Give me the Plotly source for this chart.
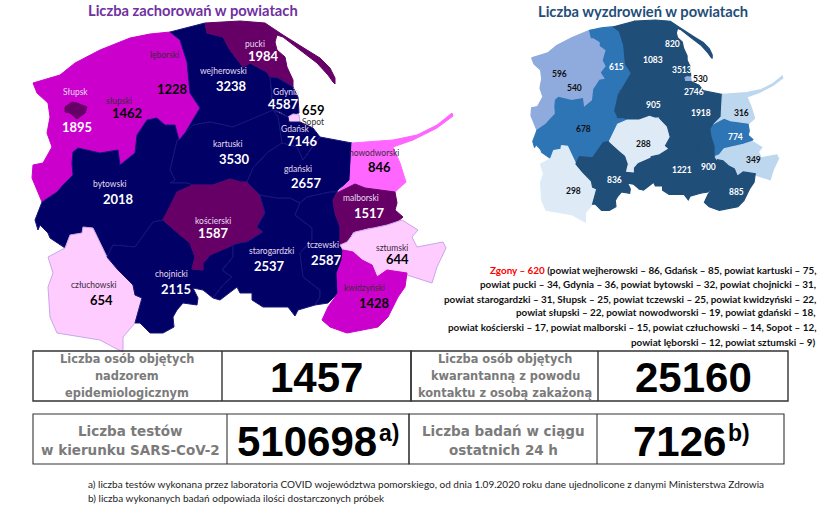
import plotly.graph_objects as go

# Powiat names and the two counts shown on the maps
names = ['słupski', 'Słupsk', 'lęborski', 'wejherowski', 'pucki', 'Gdynia', 'Sopot', 'Gdańsk', 'kartuski',
         'bytowski', 'człuchowski', 'chojnicki', 'kościerski', 'starogardzki', 'gdański', 'tczewski',
         'nowodworski', 'malborski', 'sztumski', 'kwidzyński']
cases = [1462, 1895, 1228, 3238, 1984, 4587, 659, 7146, 3530,
         2018, 654, 2115, 1587, 2537, 2657, 2587,
         846, 1517, 644, 1428]
recovered = [540, 596, 615, 1083, 820, 3513, 530, 2746, 905,
             678, 298, 836, 288, 1221, 1918, 900,
             316, 774, 349, 885]

case_colors = ['#cc00cc', '#660066', '#cc00cc', '#000066', '#660066', '#000066', '#ffccff', '#000066', '#000066',
               '#000066', '#ffccff', '#000066', '#660066', '#000066', '#000066', '#000066',
               '#ff66ff', '#660066', '#ffccff', '#cc00cc']
recovered_colors = ['#8faadc', '#8faadc', '#2e75b6', '#1f4e79', '#1f4e79', '#1f4e79', '#8faadc', '#1f4e79', '#1f4e79',
                    '#2e75b6', '#deebf7', '#1f4e79', '#deebf7', '#1f4e79', '#1f4e79', '#1f4e79',
                    '#bdd7ee', '#2e75b6', '#bdd7ee', '#1f4e79']

# Powiat outlines in picture pixels
slupski = [(33, 83), (60, 75), (75, 63), (100, 50), (130, 38), (133, 50), (137, 50), (148, 57), (148, 63), (158, 70),
           (153, 87), (158, 97), (150, 107), (157, 118), (147, 120), (137, 135), (135, 153), (120, 165), (118, 150),
           (100, 153), (78, 148), (73, 152), (72, 163), (73, 175), (63, 185), (57, 192), (42, 202), (32, 178),
           (33, 165), (43, 163), (52, 147), (47, 133), (50, 117), (48, 103), (37, 93)]
slupsk = [(65, 107), (72, 102), (77, 103), (87, 107), (85, 113), (77, 119), (70, 113), (65, 112)]
leborski = [(130, 38), (150, 34), (170, 32), (180, 40), (187, 62), (190, 93), (200, 108), (185, 133), (179, 140),
            (175, 125), (165, 125), (157, 118), (150, 107), (158, 97), (153, 87), (158, 70), (148, 63), (148, 57),
            (137, 50), (133, 50)]
wejherowski = [(170, 32), (205, 23), (207, 33), (223, 37), (230, 50), (243, 67), (250, 63), (267, 72), (270, 77),
               (272, 95), (273, 110), (250, 120), (233, 127), (210, 122), (193, 125), (185, 133), (200, 108),
               (190, 93), (187, 62), (180, 40)]
pucki = [(205, 23), (240, 21), (265, 23), (275, 30), (283, 35), (307, 50), (320, 58), (330, 68), (335, 78), (335, 84),
         (333, 82), (328, 75), (317, 63), (300, 50), (283, 37), (277, 35), (275, 42), (277, 50), (285, 57), (287, 67),
         (293, 80), (293, 87), (278, 78), (270, 77), (267, 72), (250, 63), (243, 67), (230, 50), (223, 37), (207, 33)]
gdynia = [(270, 77), (278, 78), (293, 87), (298, 97), (299, 113), (293, 114), (288, 117), (280, 112), (273, 110), (272, 95)]
sopot = [(288, 117), (293, 114), (299, 115), (300, 122), (295, 123), (289, 122)]
gdansk = [(273, 110), (288, 117), (289, 122), (300, 122), (313, 128), (320, 137), (315, 143), (303, 160), (297, 147),
          (282, 143), (278, 117)]
kartuski = [(193, 125), (210, 122), (233, 127), (250, 120), (273, 110), (278, 117), (282, 143), (268, 152), (253, 168),
            (247, 182), (240, 182), (230, 179), (213, 185), (193, 185), (187, 183), (170, 183), (175, 180), (170, 170),
            (173, 157), (177, 140), (179, 140), (185, 133)]
bytowski = [(73, 152), (78, 148), (100, 153), (118, 150), (120, 165), (135, 153), (137, 135), (147, 120), (157, 118),
            (165, 125), (175, 125), (179, 140), (177, 140), (173, 157), (170, 170), (175, 180), (170, 183), (187, 183),
            (193, 185), (177, 192), (172, 203), (163, 220), (153, 222), (135, 247), (113, 245), (107, 257), (93, 228),
            (83, 227), (82, 233), (70, 235), (65, 248), (50, 238), (48, 233), (40, 225), (38, 230), (35, 220), (42, 202),
            (57, 192), (63, 185), (73, 175), (72, 163)]
czluchowski = [(83, 227), (93, 228), (107, 257), (118, 270), (133, 285), (135, 295), (142, 298), (135, 323), (123, 337),
               (123, 352), (113, 347), (100, 340), (57, 333), (50, 317), (48, 287), (53, 273), (48, 257), (65, 248),
               (70, 235), (82, 233)]
chojnicki = [(107, 257), (113, 245), (135, 247), (153, 222), (163, 220), (180, 235), (190, 243), (195, 257), (192, 269),
             (203, 270), (203, 263), (210, 255), (233, 245), (233, 257), (222, 270), (232, 277), (223, 285), (213, 298),
             (203, 290), (193, 288), (198, 298), (197, 305), (183, 303), (177, 310), (173, 317), (174, 327), (163, 333),
             (150, 333), (140, 323), (135, 323), (142, 298), (135, 295), (133, 285), (118, 270)]
koscierski = [(163, 220), (172, 203), (177, 192), (193, 185), (213, 185), (230, 179), (240, 182), (247, 182), (260, 195),
              (265, 213), (257, 227), (263, 232), (247, 242), (240, 243), (233, 245), (210, 255), (203, 263), (203, 270),
              (192, 269), (195, 257), (190, 243), (180, 235)]
starogardzki = [(260, 195), (277, 198), (290, 198), (300, 203), (295, 215), (312, 228), (312, 240), (300, 253), (303, 277),
                (320, 290), (320, 297), (315, 305), (298, 310), (295, 316), (288, 307), (263, 307), (252, 300), (252, 293),
                (240, 293), (237, 287), (220, 300), (213, 298), (223, 285), (232, 277), (222, 270), (233, 257), (233, 245),
                (240, 243), (247, 242), (263, 232), (257, 227), (265, 213)]
gdanski = [(282, 143), (297, 147), (303, 160), (315, 143), (320, 137), (352, 143), (350, 180), (338, 190), (337, 192),
           (330, 192), (307, 197), (300, 203), (290, 198), (277, 198), (260, 195), (247, 182), (253, 168), (268, 152)]
tczewski = [(300, 203), (307, 197), (330, 192), (337, 192), (333, 200), (335, 213), (340, 227), (340, 245), (343, 250),
            (342, 260), (337, 273), (338, 293), (328, 303), (315, 305), (320, 297), (320, 290), (303, 277), (300, 253),
            (312, 240), (312, 228), (295, 215)]
nowodworski = [(352, 143), (393, 140), (417, 135), (437, 125), (452, 113), (453, 116), (437, 128), (413, 140), (393, 147),
               (400, 163), (406, 182), (395, 192), (383, 190), (365, 188), (355, 184), (337, 193), (350, 180)]
malborski = [(337, 193), (355, 184), (365, 188), (383, 190), (395, 192), (397, 203), (395, 210), (403, 217), (397, 222),
             (383, 227), (368, 228), (353, 232), (347, 242), (340, 245), (340, 227), (335, 213), (333, 200)]
sztumski = [(340, 245), (347, 242), (355, 232), (372, 228), (387, 225), (402, 220), (418, 230), (412, 237), (417, 247),
            (443, 242), (446, 248), (437, 267), (432, 283), (407, 275), (387, 270), (377, 277), (372, 265), (362, 260),
            (353, 252), (343, 250)]
kwidzynski = [(343, 250), (353, 252), (362, 260), (372, 265), (377, 277), (387, 270), (407, 273), (405, 287), (398, 297),
              (388, 317), (378, 327), (347, 333), (330, 327), (322, 320), (328, 307), (338, 293), (337, 273), (342, 260)]

outlines = [slupski, slupsk, leborski, wejherowski, pucki, gdynia, sopot, gdansk, kartuski,
            bytowski, czluchowski, chojnicki, koscierski, starogardzki, gdanski, tczewski,
            nowodworski, malborski, sztumski, kwidzynski]

# Label anchors on the left map
name_xy = [(119, 101), (75, 92), (164, 55), (223, 71), (255, 44), (286, 92), (313, 122), (295, 129), (227, 144),
           (110, 184), (94, 285), (171, 274), (213, 221), (271, 251), (298, 169), (323, 245),
           (374, 153), (361, 198), (392, 248), (364, 288)]
case_xy = [(127, 113), (77, 127), (172, 89), (231, 86), (263, 56), (283, 104), (313, 110), (302, 141), (234, 159),
           (118, 199), (101, 300), (176, 289), (213, 233), (269, 266), (306, 183), (326, 260),
           (379, 167), (369, 213), (397, 259), (374, 303)]
# Label anchors on the right map
recovered_xy = [(574, 88), (559, 74), (616, 67), (653, 60), (672, 44), (682, 70), (700, 79), (694, 92), (653, 105),
                (583, 129), (573, 191), (614, 180), (643, 144), (682, 170), (701, 113), (708, 167),
                (741, 113), (735, 137), (753, 160), (736, 192)]

death_lines = ['<span style="color:#ff0000">Zgony – 620</span> (powiat wejherowski – 86, Gdańsk – 85, powiat kartuski – 75,',
               'powiat pucki – 34, Gdynia – 36, powiat bytowski – 32, powiat chojnicki – 31,',
               'powiat starogardzki – 31, Słupsk – 25, powiat tczewski – 25, powiat kwidzyński – 22,',
               'powiat słupski – 22, powiat nowodworski – 19, powiat gdański – 18,',
               'powiat kościerski – 17, powiat malborski – 15, powiat człuchowski – 14, Sopot – 12,',
               'powiat lęborski – 12, powiat sztumski – 9)']
death_y = [270, 284, 299, 312, 327, 342]

footnotes = ['a) liczba testów wykonana przez laboratoria COVID województwa pomorskiego, od dnia 1.09.2020 roku dane ujednolicone z danymi Ministerstwa Zdrowia',
             'b) liczba wykonanych badań odpowiada ilości dostarczonych próbek']

RIGHT_SCALE_X = 0.598
RIGHT_SCALE_Y = 0.61
BODY_FONT = 'Lato'
BOX_FONT = 'Liberation Sans'
GREY = '#7b7b7b'


def is_dark(color):
    return color in ('#000066', '#660066', '#1f4e79', '#2e75b6')


def to_right(pts):
    return [531 + (x - 32) * RIGHT_SCALE_X for x, y in pts], [20 + (y - 21) * RIGHT_SCALE_Y for x, y in pts]


def label(x, y, text, size, color='black', bold=False, font=BODY_FONT, anchor='center'):
    if bold:
        text = f'<b>{text}</b>'
    return dict(x=x, y=y, text=text, showarrow=False, xanchor=anchor, yanchor='middle',
                font=dict(family=font, size=size, color=color))


fig = go.Figure()
notes = []
shapes = []

# Left map: cases
for name, outline, color in zip(names, outlines, case_colors):
    edge = '#c9a6e8' if color == '#ffccff' else ('#16167a' if color == '#000066' else color)
    xs, ys = zip(*outline)
    fig.add_trace(go.Scatter(x=list(xs) + [xs[0]], y=list(ys) + [ys[0]], mode='lines', fill='toself',
                             fillcolor=color, line=dict(color=edge, width=1), name=name, hoverinfo='skip'))

# Right map: recoveries, same outlines shrunk down
for name, outline, color in zip(names, outlines, recovered_colors):
    xs, ys = to_right(outline)
    fig.add_trace(go.Scatter(x=xs + [xs[0]], y=ys + [ys[0]], mode='lines', fill='toself',
                             fillcolor=color, line=dict(color=color, width=1.2), name=name, hoverinfo='skip'))

for i, name in enumerate(names):
    color = case_colors[i]
    dark = is_dark(color)
    name_color = '#e4dcf0' if dark else '#3a2a3a'
    if name == 'Sopot':
        name_color = '#333333'
    notes.append(label(*name_xy[i], name, 8.5, name_color))
    num_color = 'white' if dark else 'black'
    notes.append(label(*case_xy[i], cases[i], 13, num_color, bold=True))
    rec_color = 'white' if recovered_colors[i] in ('#1f4e79', '#2e75b6') else '#111111'
    if names[i] == 'bytowski':
        rec_color = '#111111'
    notes.append(label(*recovered_xy[i], recovered[i], 8.5, rec_color, bold=True))

notes.append(label(193, 10, 'Liczba zachorowań w powiatach', 14.7, '#7030a0', bold=True))
notes.append(label(643, 11, 'Liczba wyzdrowień w powiatach', 14.7, '#1f4e79', bold=True))

for line, y in zip(death_lines, death_y):
    notes.append(label(818, y, line, 9.9, '#111111', bold=True, anchor='right'))

# Summary boxes
for x0, x1, x2, x3, y0, y1, box_w in [(33, 222, 411, 598, 351, 401, 1.4), (33, 227, 409, 597, 414, 464, 1.1)]:
    right = 788 if y0 == 351 else 784
    shapes.append(dict(type='rect', x0=x0, x1=x2, y0=y0, y1=y1, line=dict(color='#333333', width=box_w)))
    shapes.append(dict(type='rect', x0=x2, x1=right, y0=y0, y1=y1, line=dict(color='#333333', width=box_w)))
    shapes.append(dict(type='line', x0=x1, x1=x1, y0=y0, y1=y1, line=dict(color='#333333', width=box_w)))
    shapes.append(dict(type='line', x0=x3, x1=x3, y0=y0, y1=y1, line=dict(color='#333333', width=box_w)))

for y, line in [(359, 'Liczba osób objętych'), (376, 'nadzorem'), (393, 'epidemiologicznym')]:
    notes.append(label(127, y, line, 11.4, GREY, bold=True, font='DejaVu Sans'))
for y, line in [(359, 'Liczba osób objętych'), (376, 'kwarantanną z powodu'), (393, 'kontaktu z osobą zakażoną')]:
    notes.append(label(505, y, line, 11.4, GREY, bold=True, font='DejaVu Sans'))
for y, line in [(431, 'Liczba testów'), (450, 'w kierunku SARS-CoV-2')]:
    notes.append(label(130, y, line, 13.5, GREY, bold=True, font='DejaVu Sans'))
for y, line in [(431, 'Liczba badań w ciągu'), (450, 'ostatnich 24 h')]:
    notes.append(label(503, y, line, 13.5, GREY, bold=True, font='DejaVu Sans'))

notes.append(label(316, 377, 1457, 42, 'black', bold=True, font=BOX_FONT))
notes.append(label(693, 377, 25160, 42, 'black', bold=True, font=BOX_FONT))
notes.append(label(235, 441, 510698, 42, 'black', bold=True, font=BOX_FONT, anchor='left'))
notes.append(label(377, 433, 'a)', 23, 'black', bold=True, font=BOX_FONT, anchor='left'))
notes.append(label(631, 441, 7126, 42, 'black', bold=True, font=BOX_FONT, anchor='left'))
notes.append(label(726, 433, 'b)', 23, 'black', bold=True, font=BOX_FONT, anchor='left'))

for y, line in zip([484, 498], footnotes):
    notes.append(label(86, y, line, 10, '#222222', anchor='left'))

fig.update_layout(
    width=820, height=510, margin=dict(l=0, r=0, t=0, b=0),
    paper_bgcolor='white', plot_bgcolor='white', showlegend=False,
    xaxis=dict(range=[0, 820], visible=False, fixedrange=True),
    yaxis=dict(range=[510, 0], visible=False, fixedrange=True),
    annotations=notes, shapes=shapes,
)

# the page has a default body margin that would push everything 8px off
fig.write_html("out.html", config=dict(displayModeBar=False),
               post_script="document.body.style.margin='0';document.body.style.overflow='hidden';")
